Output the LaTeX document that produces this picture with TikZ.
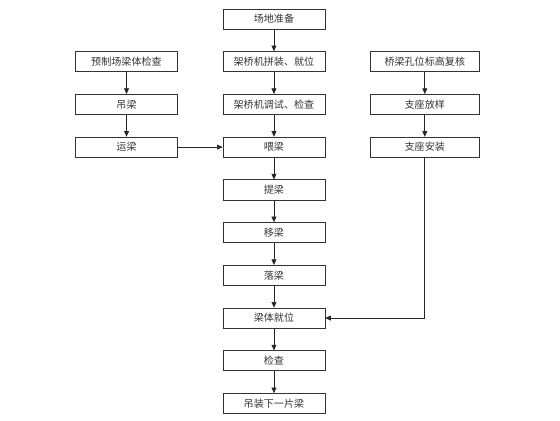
\documentclass[tikz,border=0pt]{standalone}
\usepackage{fontspec}
\newfontfamily\cjk{Noto Sans CJK SC}
\usetikzlibrary{positioning,arrows.meta}

\begin{document}
\begin{tikzpicture}[
  node distance=0.585cm and 1.19cm,
  box/.style={draw=black!80, line width=0.5pt, align=center, font=\cjk\fontsize{7.6}{9}\selectfont, text=black!80, minimum width=2.70cm, minimum height=0.53cm, inner sep=1pt},
  wbox/.style={box, minimum width=2.88cm},
  arr/.style={-{Triangle[length=1.5mm, width=1.3mm]}, line width=0.5pt, black!85}]
  \useasboundingbox (0,0) rectangle (14.84,-11.13);

  % middle column
  \node[box] (cd) at (7.26,-0.50) {场地准备};
  \node[box, below=of cd] (pz) {架桥机拼装、就位};
  \node[box, below=of pz] (ts) {架桥机调试、检查};
  \node[box, below=of ts] (wl) {喂梁};
  \node[box, below=of wl] (tl) {提梁};
  \node[box, below=of tl] (yil) {移梁};
  \node[box, below=of yil] (ll) {落梁};
  \node[box, below=of ll] (jw) {梁体就位};
  \node[box, below=of jw] (jc) {检查};
  \node[box, below=of jc] (xp) {吊装下一片梁};
  \foreach \a/\b in {cd/pz,pz/ts,ts/wl,wl/tl,tl/yil,yil/ll,ll/jw,jw/jc,jc/xp}
    \draw[arr] (\a) -- (\b);

  % left column
  \node[box, left=of pz] (yz) {预制场梁体检查};
  \node[box, below=of yz] (dl) {吊梁};
  \node[box, below=of dl] (yl) {运梁};
  \draw[arr] (yz) -- (dl);
  \draw[arr] (dl) -- (yl);
  \draw[arr] (yl) -- (wl);

  % right column
  \node[wbox, right=of pz] (fh) {桥梁孔位标高复核};
  \node[wbox, below=of fh] (fy) {支座放样};
  \node[wbox, below=of fy] (az) {支座安装};
  \draw[arr] (fh) -- (fy);
  \draw[arr] (fy) -- (az);
  \draw[arr] (az.south) |- (jw.east);
\end{tikzpicture}
\end{document}
